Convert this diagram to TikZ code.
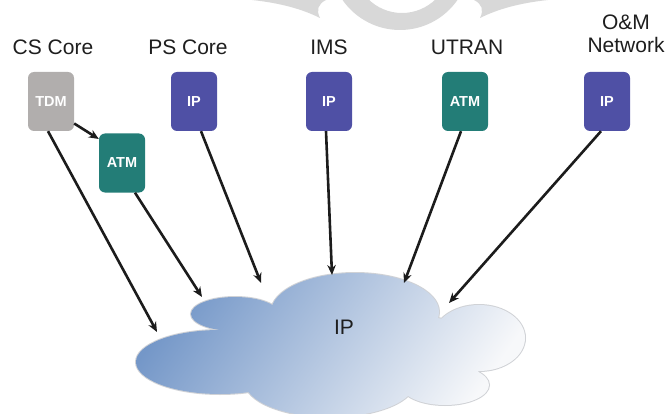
\documentclass[tikz,border=0pt]{standalone}
\usepackage{fontspec}
\setmainfont{Liberation Sans}
\usetikzlibrary{arrows.meta}
\definecolor{tdmgrey}{HTML}{B1AEAD}
\definecolor{atmteal}{HTML}{237D77}
\definecolor{ipblue}{HTML}{4F50A5}
\definecolor{cloudblue}{HTML}{7497C8}
\definecolor{cloudwhite}{HTML}{F7F8FA}
\definecolor{cloudedge}{HTML}{D0D2D6}
\definecolor{wmgrey}{HTML}{D8D8D8}
\definecolor{arrowcol}{HTML}{1C1C1C}
\definecolor{labelcol}{HTML}{1E1E1E}
\tikzset{
  x=1pt,y=1pt,
  netbox/.style={rounded corners=6pt, minimum width=46pt, minimum height=59pt, inner sep=0pt,
    text=white, font=\fontsize{14.5}{14.5}\selectfont\bfseries},
  grouplabel/.style={text=labelcol, font=\fontsize{21}{23}\selectfont, align=center, inner sep=0pt},
  link/.style={draw=arrowcol, line width=2.6pt, -{Stealth[length=10pt,width=8.5pt]}},
  cloudshade/.style={left color=cloudblue, right color=cloudwhite, shading angle=55}
}
\newcommand{\cloudpart}[4]{%
  \begin{scope}
    \clip (#1,#2) ellipse [x radius=#3, y radius=#4];
    \shade[cloudshade] (130,-270) rectangle (530,-420);
  \end{scope}}
\newcommand{\cloudring}{%
  (220,-362) ellipse [x radius=84, y radius=32]
  (235,-314) ellipse [x radius=44, y radius=17]
  (355,-312) ellipse [x radius=84, y radius=39]
  (479,-338) ellipse [x radius=46, y radius=33]
  (445,-385) ellipse [x radius=44, y radius=20]
  (330,-382) ellipse [x radius=85, y radius=35]
  (330,-350) ellipse [x radius=120, y radius=42]
  (420,-352) ellipse [x radius=70, y radius=35]}
\begin{document}
\begin{tikzpicture}
\useasboundingbox (0,0) rectangle (668,-414);
% watermark
\begin{scope}
\clip (0,0) rectangle (668,-414);
\fill[wmgrey, even odd rule] (400,40) circle [radius=70] (402,35) circle [radius=48];
\fill[wmgrey] (252,0) .. controls (280,-3) and (302,-9) .. (320,-18)
   .. controls (316,-10) and (318,-4) .. (326,0) -- cycle;
\fill[wmgrey] (548,0) .. controls (520,-3) and (498,-9) .. (480,-18)
   .. controls (484,-10) and (482,-4) .. (474,0) -- cycle;
\end{scope}
% cloud outline
\draw[cloudedge, line width=2pt] \cloudring;
% cloud fill
\cloudpart{220}{-362}{84}{32}
\cloudpart{235}{-314}{44}{17}
\cloudpart{355}{-312}{84}{39}
\cloudpart{479}{-338}{46}{33}
\cloudpart{445}{-385}{44}{20}
\cloudpart{330}{-382}{85}{35}
\cloudpart{330}{-350}{120}{42}
\cloudpart{420}{-352}{70}{35}
\node[text=labelcol, font=\fontsize{21}{21}\selectfont] (ipcloud) at (344,-327) {IP};
% group labels
\node[grouplabel] (lcs) at (53,-47) {CS Core};
\node[grouplabel] (lps) at (188,-47) {PS Core};
\node[grouplabel] (lims) at (329,-47) {IMS};
\node[grouplabel] (lutran) at (467,-47) {UTRAN};
\node[grouplabel] (lom) at (626,-34) {O\&M\\Network};
% boxes
\node[netbox, fill=tdmgrey] (tdm) at (51,-101.5) {TDM};
\node[netbox, fill=atmteal] (atmcs) at (122,-163) {ATM};
\node[netbox, fill=ipblue] (ps) at (194,-101.5) {IP};
\node[netbox, fill=ipblue] (ims) at (329,-101.5) {IP};
\node[netbox, fill=atmteal] (utran) at (465,-101.5) {ATM};
\node[netbox, fill=ipblue] (om) at (607,-101.5) {IP};
% arrow tips on cloud
\coordinate (t1) at (157,-332);
\coordinate (t2) at (202,-297);
\coordinate (t3) at (261,-283);
\coordinate (t4) at (332,-275);
\coordinate (t5) at (404,-283);
\coordinate (t6) at (449,-303);
% connectors
\draw[link] ([yshift=-22pt]tdm.east) -- ([yshift=24pt]atmcs.west);
\draw[link] ([xshift=-3pt]tdm.south) -- (t1);
\draw[link] ([xshift=13pt]atmcs.south) -- (t2);
\draw[link] ([xshift=7pt]ps.south) -- (t3);
\draw[link] ([xshift=-3pt]ims.south) -- (t4);
\draw[link] ([xshift=-4pt]utran.south) -- (t5);
\draw[link] ([xshift=-6pt]om.south) -- (t6);
\end{tikzpicture}
\end{document}
